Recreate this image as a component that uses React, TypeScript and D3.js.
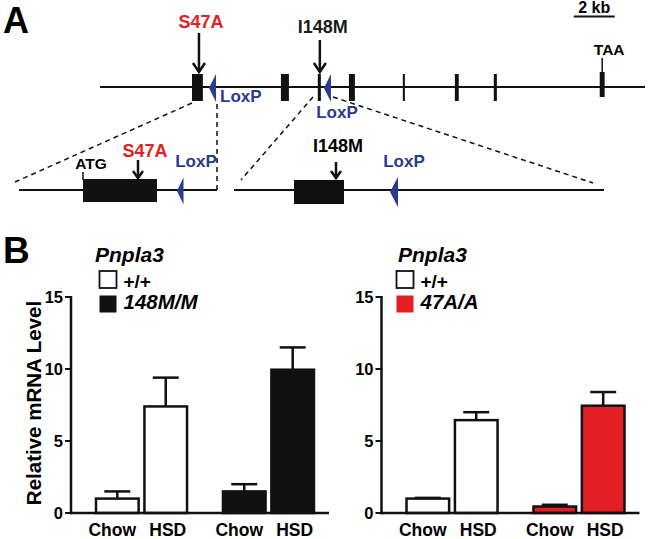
import React from "react";
import * as d3 from "d3";

// ---------- Panel A: gene map (positions in kb) ----------
const geneLength = 26.6;
const exons = [
  { start: 4.49, end: 5.02 },
  { start: 8.83, end: 9.22 },
  { start: 10.63, end: 10.78 },
  { start: 12.15, end: 12.44 },
  { start: 14.78, end: 14.88 },
  { start: 17.32, end: 17.51 },
  { start: 19.22, end: 19.37 },
  { start: 24.39, end: 24.63 },
];
const loxpSites = [5.32, 10.93];
const mutations = [
  { label: "S47A", pos: 4.83, color: "#e31e24" },
  { label: "I148M", pos: 10.73, color: "#1a1a1a" },
];
const stopCodon = { label: "TAA", pos: 24.51 };
const scaleBar = { start: 23.12, length: 2, label: "2 kb" };

// insets (positions in bp)
const insetLeft = { lineEnd: 396, exonStart: 128, exonEnd: 276, mutation: 238, loxp: 316, label: "S47A", startLabel: "ATG" };
const insetRight = { lineEnd: 740, exonStart: 120, exonEnd: 220, mutation: 204, loxp: 312, label: "I148M" };

// ---------- Panel B: bar data ----------
const diets = ["Chow", "HSD"];
const leftGenotypes = ["+/+", "148M/M"];
const leftMeans = [[1.0, 7.4], [1.5, 9.95]];
const leftSem = [[0.5, 2.0], [0.5, 1.55]];
const rightGenotypes = ["+/+", "47A/A"];
const rightMeans = [[1.0, 6.45], [0.45, 7.45]];
const rightSem = [[0.05, 0.55], [0.12, 0.95]];
const yTicks = [0, 5, 10, 15];

const FONT = "'Liberation Sans', Arial, Helvetica, sans-serif";
const BLUE = "#2b3a8f";
const RED = "#e31e24";

function Arrow({ x, y1, y2, w = 6, h = 9, sw = 2.5 }: any) {
  return (
    <g stroke="#111" strokeWidth={sw} fill="none">
      <line x1={x} x2={x} y1={y1} y2={y2} />
      <polyline points={`${x - w},${y2 - h} ${x},${y2} ${x + w},${y2 - h}`} />
    </g>
  );
}

function Loxp({ tip, cy, w, h }: any) {
  return <path d={`M${tip},${cy} L${tip + w},${cy - h / 2} L${tip + w},${cy + h / 2} Z`} fill={BLUE} />;
}

function GeneMap() {
  const x = d3.scaleLinear().domain([0, geneLength]).range([100, 645]);
  const ly = 87;
  const xl = d3.scaleLinear().domain([0, insetLeft.lineEnd]).range([19, 217]);
  const xr = d3.scaleLinear().domain([0, insetRight.lineEnd]).range([234, 604]);
  const iy = 190;
  return (
    <g fontFamily={FONT} fontWeight="bold">
      <text x={3} y={33} fontSize={36}>A</text>
      {/* scale bar */}
      <text x={x(scaleBar.start + scaleBar.length / 2)} y={13} fontSize={16} textAnchor="middle">{scaleBar.label}</text>
      <line x1={x(scaleBar.start)} x2={x(scaleBar.start + scaleBar.length)} y1={16.5} y2={16.5} stroke="#111" strokeWidth={2} />
      {/* main line */}
      <line x1={x(0)} x2={x(geneLength)} y1={ly} y2={ly} stroke="#111" strokeWidth={2} />
      {exons.map((e, i) => (
        <rect key={i} x={x(e.start)} y={i === exons.length - 1 ? ly - 15 : ly - 13} width={Math.max(2, x(e.end) - x(e.start))} height={i === exons.length - 1 ? 25 : 27} fill="#111" />
      ))}
      {loxpSites.map((p, i) => (
        <Loxp key={i} tip={x(p)} cy={ly + 1} w={7} h={28} />
      ))}
      <text x={x(loxpSites[0]) + 11} y={102} fontSize={17} fill={BLUE}>LoxP</text>
      <text x={x(loxpSites[1]) + 13} y={118} fontSize={17} fill={BLUE} textAnchor="middle">LoxP</text>
      {mutations.map((m, i) => (
        <g key={i}>
          <text x={x(m.pos) + (i === 0 ? 2 : 3)} y={i === 0 ? 28 : 33} fontSize={18} fill={m.color} textAnchor="middle">{m.label}</text>
          <Arrow x={x(m.pos)} y1={i === 0 ? 33 : 40} y2={72} />
        </g>
      ))}
      {/* stop codon */}
      <line x1={x(stopCodon.pos)} x2={x(stopCodon.pos)} y1={58} y2={72} stroke="#111" strokeWidth={1.5} />
      <text x={x(stopCodon.pos) + 7} y={55} fontSize={15.5} textAnchor="middle">{stopCodon.label}</text>

      {/* dashed connectors */}
      <g stroke="#111" strokeWidth={1.5} strokeDasharray="5,4" fill="none">
        <line x1={x(exons[0].start)} y1={103} x2={15} y2={182} />
        <line x1={217} y1={104} x2={217} y2={iy} />
        <line x1={313} y1={97} x2={241} y2={180} />
        <line x1={333} y1={97} x2={593} y2={183} />
      </g>

      {/* left inset */}
      <line x1={xl(0)} x2={xl(insetLeft.lineEnd)} y1={iy} y2={iy} stroke="#111" strokeWidth={1.8} />
      <rect x={xl(insetLeft.exonStart)} y={179} width={xl(insetLeft.exonEnd) - xl(insetLeft.exonStart)} height={23} fill="#111" />
      <line x1={xl(insetLeft.exonStart)} x2={xl(insetLeft.exonStart)} y1={172} y2={180} stroke="#111" strokeWidth={1.5} />
      <text x={xl(insetLeft.exonStart) + 8} y={169} fontSize={15.5} textAnchor="middle">{insetLeft.startLabel}</text>
      <text x={xl(insetLeft.mutation) + 7} y={157} fontSize={18} fill={RED} textAnchor="middle">{insetLeft.label}</text>
      <Arrow x={xl(insetLeft.mutation)} y1={160} y2={178} w={5} h={7} />
      <Loxp tip={xl(insetLeft.loxp)} cy={iy + 1} w={6.5} h={27} />
      <text x={196} y={167} fontSize={17} fill={BLUE} textAnchor="middle">LoxP</text>

      {/* right inset */}
      <line x1={xr(0)} x2={xr(insetRight.lineEnd)} y1={iy} y2={iy} stroke="#111" strokeWidth={1.8} />
      <rect x={xr(insetRight.exonStart)} y={180} width={xr(insetRight.exonEnd) - xr(insetRight.exonStart)} height={24} fill="#111" />
      <text x={xr(insetRight.mutation) + 2} y={152} fontSize={18} textAnchor="middle">{insetRight.label}</text>
      <Arrow x={xr(insetRight.mutation)} y1={162} y2={178} w={5} h={7} />
      <Loxp tip={xr(insetRight.loxp)} cy={iy + 2} w={8} h={30} />
      <text x={xr(insetRight.loxp) + 14} y={167} fontSize={17} fill={BLUE} textAnchor="middle">LoxP</text>
    </g>
  );
}

function BarChart({ x0, genotypes, means, sem, fills, legendX, legendBoxX, showYLabel }: any) {
  const y = d3.scaleLinear().domain([0, 15]).range([513, 297]);
  const outer = d3.scaleBand().domain(genotypes).range([x0, x0 + 268]).paddingInner(0.283).paddingOuter(0.197);
  const inner = d3.scaleBand().domain(diets).range([0, outer.bandwidth()]).paddingInner(0.12);
  const axisEnd = x0 + 258;
  return (
    <g fontFamily={FONT} fontWeight="bold">
      {genotypes.map((g: string, gi: number) =>
        diets.map((d, di) => {
          const bx = (outer(g) as number) + (inner(d) as number);
          const bw = inner.bandwidth();
          const cx = bx + bw / 2;
          const top = y(means[gi][di]);
          const errTop = y(means[gi][di] + sem[gi][di]);
          return (
            <g key={g + d}>
              <line x1={cx} x2={cx} y1={top} y2={errTop} stroke="#111" strokeWidth={2.5} />
              <line x1={cx - 13} x2={cx + 13} y1={errTop} y2={errTop} stroke="#111" strokeWidth={2.5} />
              <rect x={bx} y={top} width={bw} height={y(0) - top} fill={fills[gi]} stroke="#111" strokeWidth={2.5} />
            </g>
          );
        })
      )}
      {/* axes */}
      <line x1={x0} x2={x0} y1={y(15) - 1} y2={y(0) + 1.25} stroke="#111" strokeWidth={2.5} />
      <line x1={x0 - 1.25} x2={axisEnd} y1={y(0)} y2={y(0)} stroke="#111" strokeWidth={2.5} />
      {yTicks.map((t) => (
        <g key={t}>
          <line x1={x0 - 6} x2={x0} y1={y(t)} y2={y(t)} stroke="#111" strokeWidth={2} />
          <text x={x0 - 8} y={y(t)} dy="0.36em" fontSize={16.5} textAnchor="end">{t}</text>
        </g>
      ))}
      {genotypes.map((g: string) =>
        diets.map((d) => (
          <text key={g + d + "l"} x={(outer(g) as number) + (inner(d) as number) + inner.bandwidth() / 2 + (d === "Chow" ? -5 : 2)} y={536} fontSize={17.5} textAnchor="middle">{d}</text>
        ))
      )}
      {showYLabel && (
        <text transform={`translate(41,403) rotate(-90)`} fontSize={20.5} textAnchor="middle">Relative mRNA Level</text>
      )}
      {/* legend */}
      <text x={legendX} y={262} fontSize={21} fontStyle="italic">Pnpla3</text>
      {genotypes.map((g: string, gi: number) => (
        <g key={g + "leg"}>
          <rect x={legendBoxX} y={271 + gi * 24.5} width={17} height={17} fill={fills[gi]} stroke="#111" strokeWidth={gi === 0 ? 1.8 : 0} />
          <text x={legendBoxX + 24} y={288 + gi * 21} fontSize={gi === 0 ? 19 : 20.5} fontStyle={gi === 0 ? "normal" : "italic"}>{g}</text>
        </g>
      ))}
    </g>
  );
}

export default function App() {
  return (
    <div style={{ position: "absolute", left: 0, top: 0 }}>
      <svg width={648} height={539} style={{ display: "block", background: "#fff" }}>
        <GeneMap />
        <text x={3} y={263} fontSize={37} fontWeight="bold" fontFamily={FONT}>B</text>
        <BarChart x0={71} genotypes={leftGenotypes} means={leftMeans} sem={leftSem} fills={["#fff", "#111"]} legendX={95} legendBoxX={99.5} showYLabel />
        <BarChart x0={381.5} genotypes={rightGenotypes} means={rightMeans} sem={rightSem} fills={["#fff", RED]} legendX={398} legendBoxX={396.5} showYLabel={false} />
      </svg>
    </div>
  );
}
